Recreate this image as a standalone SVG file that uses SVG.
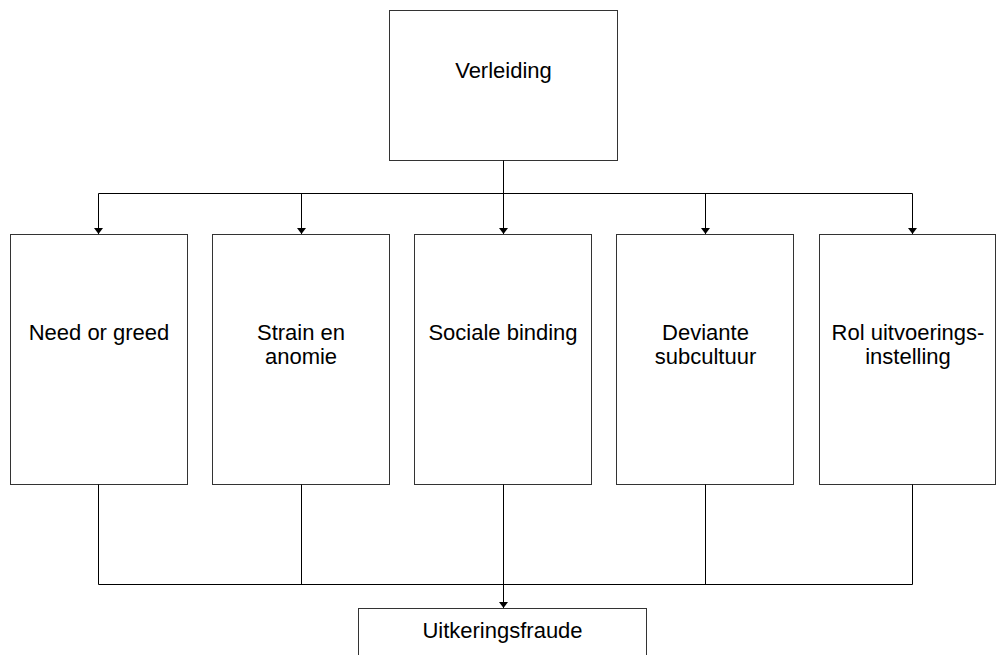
<svg xmlns="http://www.w3.org/2000/svg" width="996" height="655" viewBox="0 0 996 655">
<style>
.box{fill:#fff;stroke:#333;stroke-width:1}
.t{font-family:"Liberation Sans",Arial,sans-serif;font-size:22px;fill:#000;text-anchor:middle}
.c{fill:none;stroke:#000;stroke-width:1}
</style>
<defs>
<marker id="ah" markerUnits="userSpaceOnUse" markerWidth="7" markerHeight="10" refX="6" refY="5" orient="auto" viewBox="0 0 7 10">
<path d="M0,0.5 L6,5 L0,9.5 Z" fill="#000"/>
</marker>
</defs>
<rect width="996" height="655" fill="#fff"/>
<g id="n-verleiding">
<rect class="box" x="389.5" y="10.5" width="228" height="150"/>
<text class="t" x="503.5" y="78">Verleiding</text>
</g>
<g id="n-need">
<rect class="box" x="10.5" y="234.5" width="177" height="250"/>
<text class="t" x="99" y="340">Need or greed</text>
</g>
<g id="n-strain">
<rect class="box" x="212.5" y="234.5" width="177" height="250"/>
<text class="t" x="301" y="340">Strain en</text>
<text class="t" x="301" y="364">anomie</text>
</g>
<g id="n-sociale">
<rect class="box" x="414.5" y="234.5" width="177" height="250"/>
<text class="t" x="503" y="340">Sociale binding</text>
</g>
<g id="n-deviante">
<rect class="box" x="616.5" y="234.5" width="177" height="250"/>
<text class="t" x="705.5" y="340">Deviante</text>
<text class="t" x="705.5" y="364">subcultuur</text>
</g>
<g id="n-rol">
<rect class="box" x="819.5" y="234.5" width="176" height="250"/>
<text class="t" x="908" y="340">Rol uitvoerings-</text>
<text class="t" x="908" y="364">instelling</text>
</g>
<g id="n-fraude">
<rect class="box" x="358.5" y="608.5" width="288" height="60"/>
<text class="t" x="502.5" y="638">Uitkeringsfraude</text>
</g>
<g id="connectors">
<path class="c" d="M503.5,160.5 V193.5"/>
<path class="c" d="M98.5,193.5 H912.5"/>
<path class="c" d="M98.5,193.5 V234" marker-end="url(#ah)"/>
<path class="c" d="M301.5,193.5 V234" marker-end="url(#ah)"/>
<path class="c" d="M503.5,193.5 V234" marker-end="url(#ah)"/>
<path class="c" d="M705.5,193.5 V234" marker-end="url(#ah)"/>
<path class="c" d="M912.5,193.5 V234" marker-end="url(#ah)"/>
<path class="c" d="M98.5,484.5 V584.5 H912.5 V484.5"/>
<path class="c" d="M301.5,484.5 V584.5"/>
<path class="c" d="M705.5,484.5 V584.5"/>
<path class="c" d="M503.5,484.5 V608" marker-end="url(#ah)"/>
</g>
</svg>
